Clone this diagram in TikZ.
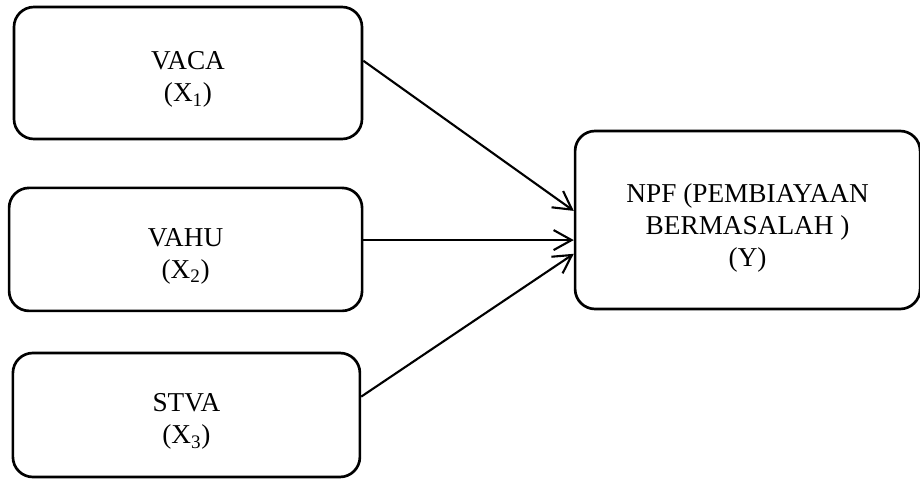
\documentclass[tikz,border=0pt]{standalone}
\usepackage{fontspec}
\setmainfont{Liberation Serif}
\usepackage{tikz}
\usetikzlibrary{arrows.meta}

\tikzset{
  varbox/.style={draw, line width=1.9pt, rounded corners=0.5cm, inner sep=0pt},
  vartext/.style={align=center, inner sep=0pt, font=\fontsize{19.4}{22.7}\selectfont}
}

\begin{document}
\begin{tikzpicture}[>={Straight Barb[length=0.45cm, width=0.5cm]}]
  \useasboundingbox (0,0) rectangle (23,11.975);
  % Independent variables
  \node[varbox, minimum width=8.7cm, minimum height=3.3cm] (vaca) at (4.7, 10.15) {};
  \node[varbox, minimum width=8.825cm, minimum height=3.075cm] (vahu) at (4.64, 5.74) {};
  \node[varbox, minimum width=8.675cm, minimum height=3.1cm] (stva) at (4.66, 1.6) {};
  \node[vartext] (vacatext) at ([yshift=-0.17cm]vaca.center) {VACA\\(X\textsubscript{1})};
  \node[vartext] (vahutext) at ([yshift=-0.17cm]vahu.center) {VAHU\\(X\textsubscript{2})};
  \node[vartext] (stvatext) at ([yshift=-0.17cm]stva.center) {STVA\\(X\textsubscript{3})};
  % Dependent variable
  \node[varbox, minimum width=8.625cm, minimum height=4.45cm] (npf) at (18.69, 6.475) {};
  \node[vartext] (npftext) at ([yshift=-0.2cm]npf.center) {NPF (PEMBIAYAAN\\BERMASALAH )\\(Y)};
  % Arrows
  \draw[->, line width=1.5pt] (vaca.4) -- (npf.177);
  \draw[->, line width=1.5pt] (vahu.3) -- (vahu.3 -| npf.west);
  \draw[->, line width=1.5pt] (stva.6) -- (npf.191);
\end{tikzpicture}
\end{document}
